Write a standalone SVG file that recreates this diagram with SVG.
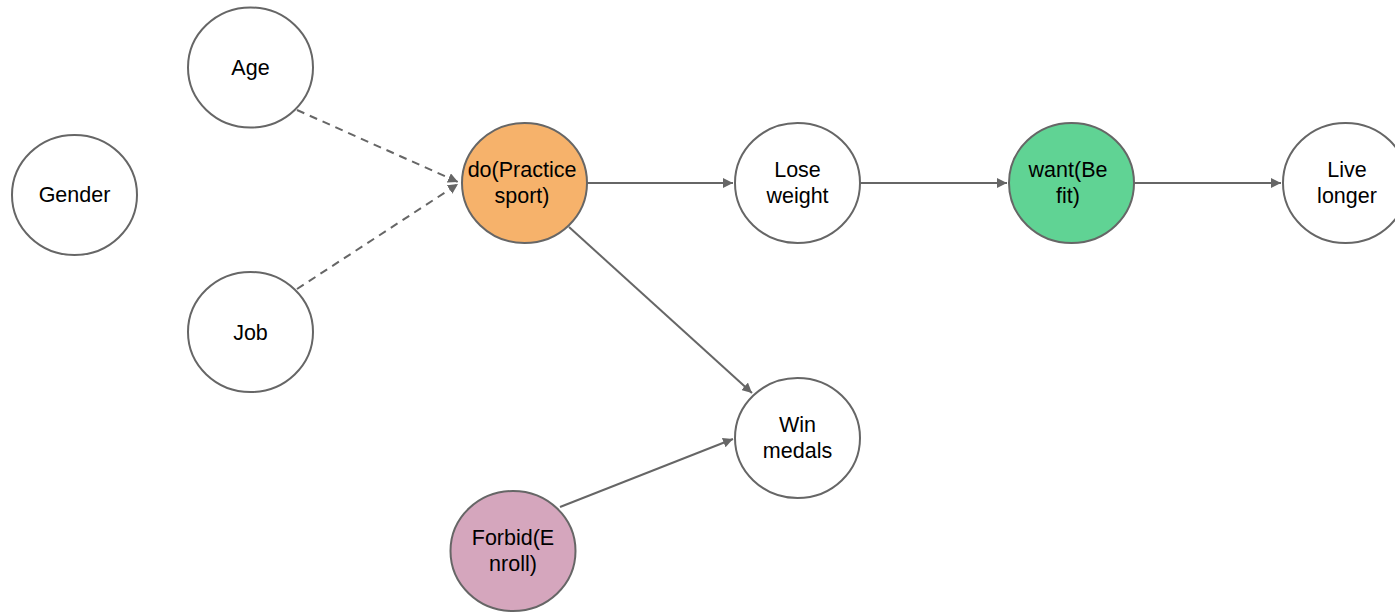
<svg xmlns="http://www.w3.org/2000/svg" width="1395" height="613" viewBox="0 0 1395 613">
  <defs>
    <marker id="arrow" viewBox="0 0 10 10" refX="10" refY="5" markerWidth="5" markerHeight="5" orient="auto" markerUnits="strokeWidth">
      <path d="M0,0 L10,5 L0,10 z" fill="#666666"/>
    </marker>
    <style>
      .node ellipse { stroke: #666666; stroke-width: 2; fill: #ffffff; }
      .node text { font-family: "Liberation Sans", Arial, sans-serif; font-size: 21.5px; fill: #000000; text-anchor: middle; }
      .edge { stroke: #666666; stroke-width: 2; fill: none; marker-end: url(#arrow); }
      .dashed { stroke-dasharray: 8 6; }
    </style>
  </defs>
  <rect width="1395" height="613" fill="#ffffff"/>

  <g id="connectors">
    <line class="edge dashed" x1="297" y1="110" x2="458" y2="182"/>
    <line class="edge dashed" x1="297" y1="289" x2="458" y2="184"/>
    <line class="edge" x1="587" y1="183" x2="733" y2="183"/>
    <line class="edge" x1="860" y1="183" x2="1007" y2="183"/>
    <line class="edge" x1="1134" y1="183" x2="1281" y2="183"/>
    <line class="edge" x1="569" y1="227" x2="752" y2="393"/>
    <line class="edge" x1="560" y1="507" x2="733" y2="439"/>
  </g>

  <g id="gender" class="node">
    <ellipse cx="74.5" cy="195" rx="62.5" ry="60"/>
    <text x="74.5" y="202">Gender</text>
  </g>
  <g id="age" class="node">
    <ellipse cx="250.5" cy="67.5" rx="62.5" ry="60"/>
    <text x="250.5" y="75">Age</text>
  </g>
  <g id="job" class="node">
    <ellipse cx="250.5" cy="332" rx="62.5" ry="60"/>
    <text x="250.5" y="340">Job</text>
  </g>
  <g id="practice-sport" class="node">
    <ellipse cx="524.5" cy="183" rx="62.5" ry="60" style="fill:#f6b26b"/>
    <text x="522" y="177">do(Practice</text>
    <text x="522" y="203">sport)</text>
  </g>
  <g id="lose-weight" class="node">
    <ellipse cx="797.5" cy="183" rx="62.5" ry="60"/>
    <text x="797.5" y="177">Lose</text>
    <text x="797.5" y="203">weight</text>
  </g>
  <g id="be-fit" class="node">
    <ellipse cx="1071.5" cy="183" rx="62.5" ry="60" style="fill:#60d394"/>
    <text x="1068" y="177">want(Be</text>
    <text x="1068" y="203">fit)</text>
  </g>
  <g id="live-longer" class="node">
    <ellipse cx="1345.5" cy="183" rx="62.5" ry="60"/>
    <text x="1347" y="177">Live</text>
    <text x="1347" y="203">longer</text>
  </g>
  <g id="win-medals" class="node">
    <ellipse cx="797.5" cy="438" rx="62.5" ry="60"/>
    <text x="797.5" y="432">Win</text>
    <text x="797.5" y="458">medals</text>
  </g>
  <g id="enroll" class="node">
    <ellipse cx="513" cy="551" rx="62.5" ry="60" style="fill:#d5a6bd"/>
    <text x="513" y="545">Forbid(E</text>
    <text x="513" y="571">nroll)</text>
  </g>
</svg>
